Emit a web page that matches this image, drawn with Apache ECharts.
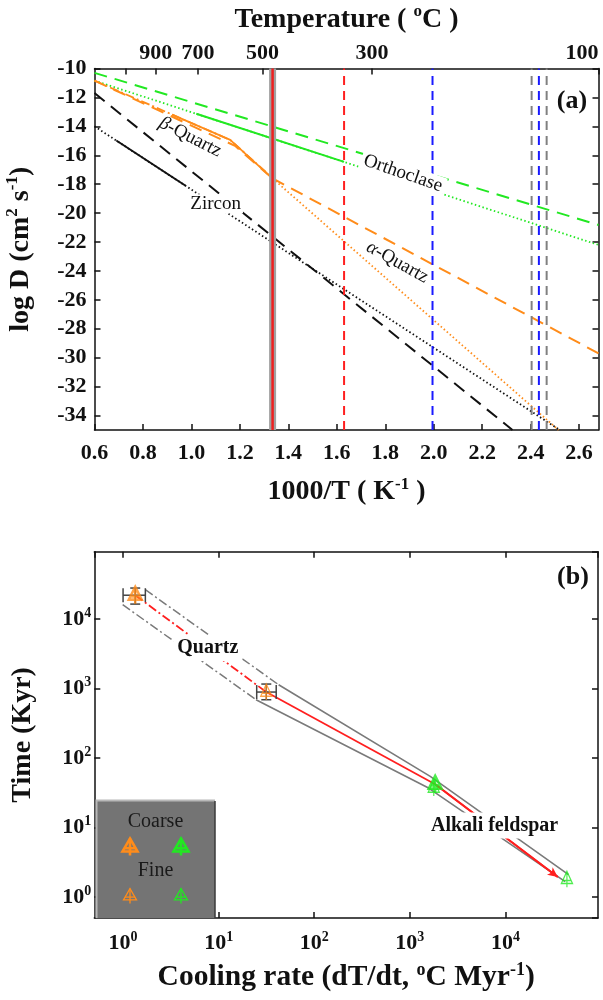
<!DOCTYPE html>
<html><head><meta charset="utf-8">
<script src="https://cdn.jsdelivr.net/npm/echarts@6/dist/echarts.min.js"></script>
<style>html,body{margin:0;padding:0;background:#fff}#c{width:603px;height:1000px}</style>
</head><body><div id="c"></div>
<script>
// ---------------- Panel (a) data ----------------
const xTicksA = [0.6,0.8,1.0,1.2,1.4,1.6,1.8,2.0,2.2,2.4,2.6];
const yTicksA = [-34,-32,-30,-28,-26,-24,-22,-20,-18,-16,-14,-12,-10];
const tempTicks = [1100,900,700,500,300,100];
const tempLabels = [900,700,500,300,100];

const orthoDashed = [[0.6,-10.3],[2.68,-20.82]];
const orthoDotted = [[0.6,-10.84],[2.68,-22.2]];
const orthoSolid  = [[1.02,-13.13],[1.63,-16.46]];
const betaQtzDashDot = [[0.6,-10.84],[1.16,-14.94],[1.33,-17.5]];
const betaQtzSolid   = [[0.92,-13.19],[1.16,-14.94],[1.315,-17.3]];
const betaQtzDashed  = [[0.6,-10.84],[1.18,-15.35],[1.335,-17.6]];
const alphaQtzDashed = [[1.335,-17.6],[2.68,-29.7]];
const alphaQtzDotted = [[1.335,-17.6],[2.515,-35]];
const zirconDashed = [[0.6,-11.7],[2.325,-35]];
const zirconDotted = [[0.6,-14.0],[2.52,-35]];
const zirconSolid  = [[0.69,-14.98],[0.976,-18.11]];
const vRedSolid  = [1.335];
const vRedDashed = [1.63];
const vBlueDashed = [1.995, 2.434];
const vGrayDashed = [2.404, 2.466];

// ---------------- Panel (b) data ----------------
const qtzCoarse = [[1.34, 22000]];
const qtzFine   = [[31.5, 890]];
const fspCoarse = [[1840, 42]];
const fspFine   = [[1780, 37],[44000, 1.8]];
// x, y, xLow, xHigh, yLow, yHigh
const qtzErr = [[1.34,22000,1.0,1.71,16400,27900],[31.5,890,25,40,690,1160]];
const qtzEnvUpper = [[1.71,26400],[42.4,1135]];
const qtzEnvLower = [[0.99,16100],[24.6,690]];
const fspEnvUpper = [[42.4,1135],[1635,54.4],[45700,2.1]];
const fspEnvLower = [[24.6,690],[1570,37],[42200,1.67]];
const redDashDot = [[1.34,22000],[31.5,890]];
const redSolid   = [[31.5,890],[1840,42]];
const redArrow   = [[1840,42],[35300,1.94]];

// ---------------- styling ----------------
const F = 'Liberation Serif';
const INK = '#111';
const GREEN = '#22e822', ORANGE = '#ff8c1a', BLUE = '#1a1aff', RED = '#ff1f1f', GRAY = '#808080';
const DOT = [1.5,2.5], DASH = [13,8], DASHDOT = [9,3,2,3], VDASH = [9,6];
const TOINV = t => 1000/(t+273.15);
const titleRich = {
  b:{fontFamily:F,fontWeight:'bold',fontSize:28,lineHeight:32,color:INK},
  s:{fontFamily:F,fontWeight:'bold',fontSize:17,lineHeight:18,verticalAlign:'top',color:INK}
};
const titleRichL = {
  b:{fontFamily:F,fontWeight:'bold',fontSize:29.5,lineHeight:33,color:INK},
  s:{fontFamily:F,fontWeight:'bold',fontSize:18,lineHeight:19,verticalAlign:'top',color:INK}
};
const labRich = {
  b:{fontFamily:F,fontWeight:'bold',fontSize:22,lineHeight:26,color:INK},
  s:{fontFamily:F,fontWeight:'bold',fontSize:14,lineHeight:15,verticalAlign:'top',color:INK}
};
const aLine = {show:true, onZero:false, lineStyle:{color:INK, width:1.5}};
const tk = vals => { const o = {show:true, inside:true, length:6, lineStyle:{color:INK,width:1.5}}; if (vals) o.customValues = vals; return o; };
const lbl = extra => Object.assign({fontFamily:F, fontWeight:'bold', fontSize:22, color:INK, margin:9}, extra);

function ln(data, color, type, width, z, xi, yi) {
  return {type:'line', xAxisIndex:xi||0, yAxisIndex:yi||0, data, symbol:'none', silent:true,
    lineStyle:{color, type, width, cap:'butt'}, z: z||2, animation:false};
}
const vert = (xs, color, type, width, z) => xs.map(x => ln([[x,-35],[x,-10]], color, type, width, z));

const SYM = 'path://M0,0L9,16L-9,16ZM0,0L0,21M-7,12L7,12';
function sc(data, color, bw, size) {
  return {type:'scatter', xAxisIndex:2, yAxisIndex:2, data, symbol:SYM, symbolSize:size, symbolKeepAspect:true,
    itemStyle:{color:'rgba(0,0,0,0)', borderColor:color, borderWidth:bw}, z:6, silent:true, animation:false};
}

const series = [
  ln(orthoDotted, GREEN, DOT, 1.8),
  ln(orthoDashed, GREEN, DASH, 2),
  ln(orthoSolid, GREEN, 'solid', 2),
  ln(betaQtzDashDot, ORANGE, DASHDOT, 1.8),
  ln(betaQtzSolid, ORANGE, 'solid', 1.8),
  ln(betaQtzDashed, ORANGE, DASH, 2),
  ln(alphaQtzDashed, ORANGE, DASH, 2),
  ln(alphaQtzDotted, ORANGE, DOT, 1.8),
  ln(zirconDashed, INK, DASH, 2),
  ln(zirconDotted, INK, DOT, 1.8),
  ln(zirconSolid, INK, 'solid', 2),
  ...vert(vRedSolid, '#a0a0a0', 'solid', 7, 3),
  ...vert(vRedSolid, '#ee2020', 'solid', 2.5, 4),
  ...vert(vRedDashed, RED, VDASH, 2, 4),
  ...vert(vBlueDashed, BLUE, VDASH, 2, 4),
  ...vert(vGrayDashed, GRAY, VDASH, 2, 4),
  // panel b
  ln(qtzEnvUpper, '#7a7a7a', DASHDOT, 1.5, 2, 2, 2),
  ln(qtzEnvLower, '#7a7a7a', DASHDOT, 1.5, 2, 2, 2),
  ln(fspEnvUpper, '#7a7a7a', 'solid', 1.6, 2, 2, 2),
  ln(fspEnvLower, '#7a7a7a', 'solid', 1.6, 2, 2, 2),
  ln(redDashDot, RED, DASHDOT, 1.8, 3, 2, 2),
  ln(redSolid, RED, 'solid', 1.8, 3, 2, 2),
  Object.assign(ln(redArrow, RED, 'solid', 1.8, 3, 2, 2), {
    markLine:{silent:true, symbol:['none','arrow'], symbolSize:[7,10], label:{show:false},
      lineStyle:{color:RED, type:'solid', width:1.8}, animation:false,
      data:[[{coord:redArrow[0]},{coord:redArrow[1]}]]}
  }),
  {type:'custom', xAxisIndex:2, yAxisIndex:2, data:qtzErr, z:5, silent:true, animation:false,
    encode:{x:0, y:1},
    renderItem:(p, api) => {
      const c = api.coord([api.value(0), api.value(1)]);
      const l = api.coord([api.value(2), api.value(1)]);
      const r = api.coord([api.value(3), api.value(1)]);
      const b = api.coord([api.value(0), api.value(4)]);
      const t = api.coord([api.value(0), api.value(5)]);
      const st = {stroke:'#444', lineWidth:1.5};
      const L = (x1,y1,x2,y2) => ({type:'line', shape:{x1,y1,x2,y2}, style:st});
      return {type:'group', children:[
        L(l[0],c[1],r[0],c[1]), L(l[0],c[1]-7,l[0],c[1]+7), L(r[0],c[1]-7,r[0],c[1]+7),
        L(c[0],b[1],c[0],t[1]), L(c[0]-5,b[1],c[0]+5,b[1]), L(c[0]-5,t[1],c[0]+5,t[1])
      ]};
    }},
  sc(qtzCoarse, ORANGE, 2.6, [15,17]),
  sc(qtzFine, ORANGE, 1.3, [13,16]),
  sc(fspCoarse, GREEN, 2.6, [15,17]),
  sc(fspFine, GREEN, 1.3, [13,16])
];

const logLbl = {formatter: v => '{b|10}{s|' + Math.round(Math.log10(v)) + '}', rich: labRich,
  showMinLabel:false, showMaxLabel:false, margin:10};

const option = {
  animation:false,
  backgroundColor:'#fff',
  grid:[{left:94.5, top:68.5, width:504, height:361.5, outerBoundsMode:'none', containLabel:false},
        {left:94.3, top:551.7, width:503.7, height:366.3, outerBoundsMode:'none', containLabel:false}],
  xAxis:[
    {type:'value', gridIndex:0, min:0.6, max:2.68, position:'bottom', axisLine:aLine, axisTick:tk(xTicksA),
     axisLabel:lbl({customValues:xTicksA, formatter:v=>v.toFixed(1), margin:12}), splitLine:{show:false},
     name:'{b|1000/T ( K}{s|-1}{b| )}', nameLocation:'middle', nameGap:46, nameTextStyle:{rich:titleRich}},
    {type:'value', gridIndex:0, min:0.6, max:2.68, position:'top', axisLine:aLine, axisTick:tk(tempTicks.map(TOINV)),
     axisLabel:lbl({customValues:tempLabels.map(TOINV), formatter:v=>String(Math.round(1000/v-273.15)), margin:4, alignMaxLabel:'right'}),
     splitLine:{show:false},
     name:'{b|Temperature ( }{s|o}{b|C )}', nameLocation:'middle', nameGap:33, nameTextStyle:{rich:titleRich}},
    {type:'log', gridIndex:1, min:0.5, max:93000, position:'bottom', axisLine:aLine, axisTick:tk(),
     axisLabel:Object.assign({}, logLbl, {margin:12}), splitLine:{show:false}, minorTick:{show:false},
     name:'{b|Cooling rate (dT/dt, }{s|o}{b|C Myr}{s|-1}{b|)}', nameLocation:'middle', nameGap:43, nameTextStyle:{rich:titleRichL}},
    {type:'log', gridIndex:1, min:0.5, max:93000, position:'top', axisLine:aLine, axisTick:tk(),
     axisLabel:{show:false}, splitLine:{show:false}}
  ],
  yAxis:[
    {type:'value', gridIndex:0, min:-35, max:-10, position:'left', axisLine:aLine, axisTick:tk(yTicksA),
     axisLabel:lbl({customValues:yTicksA, margin:8}), splitLine:{show:false},
     name:'{b|log D (cm}{s|2}{b| s}{s|-1}{b|)}', nameLocation:'middle', nameGap:58, nameTextStyle:{rich:titleRich}},
    {type:'value', gridIndex:0, min:-35, max:-10, position:'right', axisLine:aLine, axisTick:tk(yTicksA),
     axisLabel:{show:false}, splitLine:{show:false}},
    {type:'log', gridIndex:1, min:0.5, max:93000, position:'left', axisLine:aLine, axisTick:tk(),
     axisLabel:Object.assign({}, logLbl, {margin:3}), splitLine:{show:false}, minorTick:{show:false},
     name:'{b|Time (Kyr)}', nameLocation:'middle', nameGap:56, nameTextStyle:{rich:titleRich}},
    {type:'log', gridIndex:1, min:0.5, max:93000, position:'right', axisLine:aLine, axisTick:tk(),
     axisLabel:{show:false}, splitLine:{show:false}}
  ],
  series
};

const chart = echarts.init(document.getElementById('c'));
chart.setOption(option);

// ---------- annotations placed via the chart's own coordinate conversion ----------
const PA = pt => chart.convertToPixel({xAxisIndex:0, yAxisIndex:0}, pt);
const PB = pt => chart.convertToPixel({xAxisIndex:2, yAxisIndex:2}, pt);
const deg = d => d*Math.PI/180;
function txt(p, text, opt) {
  opt = opt || {};
  return {type:'text', x:p[0], y:p[1], rotation:opt.rot||0, z:20, silent:true,
    style:{text, fill:INK, fontFamily:F, fontSize:opt.size||19, fontWeight:opt.bold?'bold':'normal',
      align:'center', verticalAlign:'middle', backgroundColor:opt.bg||null, padding:opt.pad||0,
      rich:{i:{fontStyle:'italic', fontFamily:F, fontSize:opt.size||19, fill:INK}}}};
}
// legend marker: triangle with a cross (apex, base, vertical stroke, bar)
function lsym(cx, cy, color, lw, w, h) {
  const top = cy - h/2, base = top + h*16/21, bar = top + h*12/21, hw = w/2, bw = w*7/18;
  const st = {stroke:color, lineWidth:lw, fill:null};
  return {type:'group', z:21, silent:true, children:[
    {type:'polygon', z:21, shape:{points:[[cx,top],[cx+hw,base],[cx-hw,base]]}, style:st},
    {type:'line', z:21, shape:{x1:cx, y1:top, x2:cx, y2:cy+h/2}, style:st},
    {type:'line', z:21, shape:{x1:cx-bw, y1:bar, x2:cx+bw, y2:bar}, style:st}
  ]};
}
const graphic = [
  txt(PA([1.873,-17.25]), 'Orthoclase', {rot:deg(-19), bg:'#fff', pad:[0,3]}),
  txt(PA([0.995,-14.75]), '{i|β}-Quartz', {rot:deg(-27)}),
  txt(PA([1.85,-23.4]), '{i|α}-Quartz', {rot:deg(-29)}),
  txt(PA([1.10,-19.35]), 'Zircon', {bg:'#fff', pad:[0,2]}),
  {type:'text', x:572, y:101, z:20, silent:true, style:{text:'(a)', fill:INK, fontFamily:F, fontSize:26, fontWeight:'bold', align:'center', verticalAlign:'middle'}},
  txt(PB([7.7,3830]), 'Quartz', {bold:true, bg:'#fff', pad:[3,4], size:20}),
  txt(PB([7700,10.7]), 'Alkali feldspar', {bold:true, bg:'#fff', pad:[3,4], size:20}),
  {type:'text', x:573, y:577, z:20, silent:true, style:{text:'(b)', fill:INK, fontFamily:F, fontSize:26, fontWeight:'bold', align:'center', verticalAlign:'middle'}},
  // legend box
  {type:'rect', z:15, silent:true, shape:{x:96, y:800, width:119, height:118}, style:{fill:'#747474'}},
  {type:'polyline', z:16, silent:true, shape:{points:[[96.5,918],[96.5,800.5],[215,800.5]]}, style:{stroke:'#b8b8b8', lineWidth:2, fill:null}},
  {type:'polyline', z:16, silent:true, shape:{points:[[215,801],[215,918]]}, style:{stroke:'#3a3a3a', lineWidth:1.5, fill:null}},
  {type:'text', x:155.5, y:822, z:17, silent:true, style:{text:'Coarse', fill:'#1a1a1a', fontFamily:F, fontSize:20, align:'center', verticalAlign:'middle'}},
  {type:'text', x:155.5, y:871, z:17, silent:true, style:{text:'Fine', fill:'#1a1a1a', fontFamily:F, fontSize:20, align:'center', verticalAlign:'middle'}},
  lsym(130, 847, ORANGE, 2.6, 15, 17), lsym(181, 847, GREEN, 2.6, 15, 17),
  lsym(130, 896, ORANGE, 1.3, 13, 15), lsym(181, 896, GREEN, 1.3, 13, 15)
];
chart.setOption({graphic});
</script>
</body></html>
